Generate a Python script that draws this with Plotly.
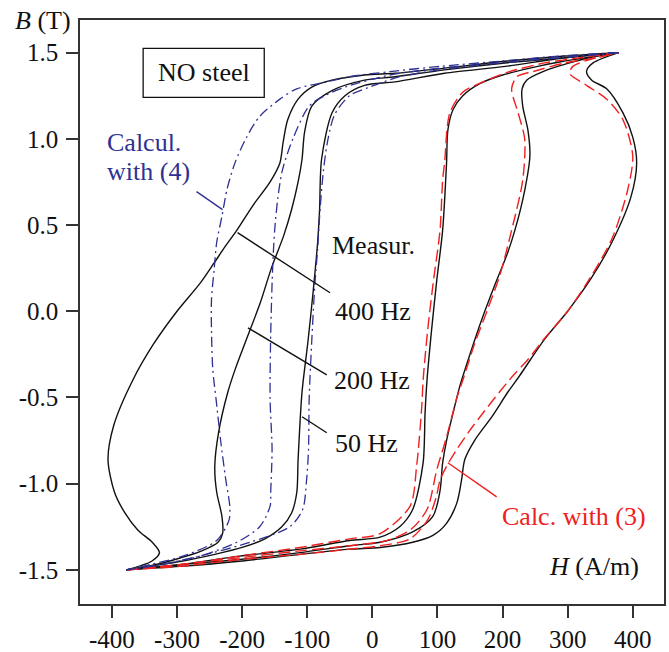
import plotly.graph_objects as go

# ---------------- data (H in A/m, B in T) ----------------
# Measured loops, ascending branches
m400_up_H = [-378,-296,-204,-111,-35,12,62,93,114,130,137,142,157,184,208,227,243,265,300,336,368,397,406,400,385,360,337,329,339,378]
m400_up_B = [-1.50,-1.48,-1.45,-1.41,-1.38,-1.37,-1.34,-1.30,-1.23,-1.11,-0.98,-0.86,-0.75,-0.61,-0.47,-0.37,-0.28,-0.16,0.00,0.19,0.40,0.66,0.86,1.01,1.15,1.29,1.34,1.39,1.44,1.50]
m200_up_H = [-378,-296,-204,-111,-35,12,62,93,104,108,114,124,134,150,168,188,207,219,234,242,239,231,230,237,262,303,345,378]
m200_up_B = [-1.50,-1.47,-1.44,-1.40,-1.36,-1.34,-1.28,-1.19,-1.04,-0.88,-0.75,-0.59,-0.44,-0.25,-0.05,0.15,0.33,0.47,0.70,0.90,1.05,1.19,1.29,1.34,1.39,1.44,1.48,1.50]
m50_up_H = [-378,-296,-204,-111,-35,12,42,62,78,81,84,91,99,108,114,116,124,139,165,200,242,293,345,378]
m50_up_B = [-1.50,-1.47,-1.42,-1.38,-1.33,-1.31,-1.25,-1.15,-0.88,-0.59,-0.40,-0.11,0.18,0.47,0.86,1.05,1.17,1.25,1.32,1.37,1.41,1.45,1.48,1.50]

# Measured loops, descending branches
m400_dn_H = [378,296,204,111,35,-12,-62,-93,-114,-130,-137,-142,-157,-184,-208,-227,-243,-265,-300,-336,-368,-397,-406,-396,-380,-360,-338,-327,-339,-378]
m400_dn_B = [1.50,1.48,1.45,1.41,1.38,1.37,1.34,1.30,1.23,1.11,0.98,0.86,0.75,0.61,0.47,0.37,0.28,0.16,0.00,-0.19,-0.40,-0.66,-0.86,-1.05,-1.17,-1.27,-1.34,-1.40,-1.45,-1.50]
m200_dn_H = [378,296,204,111,35,-12,-62,-93,-104,-108,-114,-124,-136,-155,-172,-192,-210,-222,-236,-242,-239,-231,-230,-237,-262,-303,-345,-378]
m200_dn_B = [1.50,1.47,1.44,1.40,1.36,1.34,1.28,1.19,1.04,0.88,0.75,0.59,0.44,0.25,0.05,-0.15,-0.33,-0.47,-0.70,-0.90,-1.05,-1.19,-1.29,-1.34,-1.39,-1.44,-1.48,-1.50]
m50_dn_H = [378,296,204,111,35,-12,-42,-62,-78,-81,-84,-91,-99,-108,-114,-116,-124,-139,-165,-200,-242,-293,-345,-378]
m50_dn_B = [1.50,1.47,1.42,1.38,1.33,1.31,1.25,1.15,0.88,0.59,0.40,0.11,-0.18,-0.47,-0.86,-1.05,-1.17,-1.25,-1.32,-1.37,-1.41,-1.45,-1.48,-1.50]

# Calculated with (3): ascending branches
c3_50_H = [-378,-296,-204,-111,-35,12,58,68,76,78,85,94,104,108,111,119,139,170,211,265,319,378]
c3_50_B = [-1.50,-1.47,-1.42,-1.37,-1.32,-1.29,-1.13,-0.90,-0.55,-0.40,-0.11,0.18,0.47,0.76,0.86,1.15,1.27,1.33,1.39,1.44,1.47,1.50]
c3_200_H = [-378,-296,-204,-111,-35,22,58,84,99,114,130,139,157,177,196,214,231,234,224,214,222,247,296,345,378]
c3_200_B = [-1.50,-1.47,-1.43,-1.39,-1.36,-1.33,-1.27,-1.15,-0.92,-0.73,-0.50,-0.40,-0.19,0.01,0.21,0.47,0.76,1.00,1.15,1.29,1.36,1.39,1.44,1.47,1.50]
c3_400_H = [-378,-296,-204,-111,-35,12,58,85,98,104,114,130,150,170,195,217,239,264,300,334,368,392,400,385,360,329,303,308,334,378]
c3_400_B = [-1.50,-1.48,-1.44,-1.41,-1.38,-1.36,-1.32,-1.21,-1.08,-0.98,-0.90,-0.80,-0.69,-0.59,-0.47,-0.37,-0.28,-0.16,0.00,0.19,0.42,0.70,0.90,1.11,1.23,1.31,1.38,1.42,1.46,1.50]

# Calculated with (4): descending branches
c4_400_H = [378,288,196,104,27,-35,-70,-116,-142,-173,-193,-211,-223,-231,-239,-243,-247,-247,-245,-240,-233,-225,-219,-220,-239,-291,-342,-378]
c4_400_B = [1.50,1.48,1.45,1.42,1.39,1.36,1.33,1.29,1.23,1.13,1.01,0.86,0.71,0.55,0.40,0.24,0.07,-0.12,-0.34,-0.51,-0.75,-0.98,-1.13,-1.21,-1.33,-1.42,-1.47,-1.50]
c4_200_H = [378,288,196,104,27,-42,-73,-97,-122,-138,-145,-150,-153,-156,-157,-154,-156,-157,-173,-208,-265,-326,-378]
c4_200_B = [1.50,1.47,1.44,1.41,1.37,1.30,1.25,1.19,1.00,0.82,0.66,0.47,0.26,-0.12,-0.51,-0.80,-1.04,-1.13,-1.25,-1.34,-1.42,-1.47,-1.50]
c4_50_H = [378,288,196,104,42,-4,-35,-58,-68,-75,-81,-84,-88,-93,-97,-98,-101,-107,-127,-188,-265,-326,-378]
c4_50_B = [1.50,1.47,1.44,1.40,1.36,1.30,1.25,1.14,1.00,0.82,0.55,0.36,0.17,-0.17,-0.51,-0.80,-0.98,-1.15,-1.25,-1.34,-1.42,-1.47,-1.50]

x_ticks = [-400, -300, -200, -100, 0, 100, 200, 300, 400]
x_tick_text = ["-400", "-300", "-200", "-100", "0", "100", "200", "300", "400"]
y_ticks = [-1.5, -1.0, -0.5, 0.0, 0.5, 1.0, 1.5]
y_tick_text = ["-1.5", "-1.0", "-0.5", "0.0", "0.5", "1.0", "1.5"]

BLACK = "#111111"
RED = "#f02020"
BLUE = "#2e3192"
FONT = "Liberation Serif"

fig = go.Figure()

def add(h, b, color, dash, width):
    fig.add_trace(go.Scatter(x=h, y=b, mode="lines",
                             line=dict(color=color, width=width, dash=dash,
                                       shape="spline", smoothing=0.8),
                             hoverinfo="skip", showlegend=False))

for h, b in [(m400_up_H, m400_up_B), (m200_up_H, m200_up_B), (m50_up_H, m50_up_B),
             (m400_dn_H, m400_dn_B), (m200_dn_H, m200_dn_B), (m50_dn_H, m50_dn_B)]:
    add(h, b, BLACK, "solid", 1.4)
for h, b in [(c3_50_H, c3_50_B), (c3_200_H, c3_200_B), (c3_400_H, c3_400_B)]:
    add(h, b, RED, "12px,5px", 1.4)
for h, b in [(c4_50_H, c4_50_B), (c4_200_H, c4_200_B), (c4_400_H, c4_400_B)]:
    add(h, b, BLUE, "10px,4px,2px,4px", 1.3)

# pointer lines
pointers = [
    ((-207, 0.456), (-65, 0.107), BLACK),
    ((-191, -0.096), (-70, -0.369), BLACK),
    ((-108, -0.612), (-70, -0.705), BLACK),
    ((-270, 0.694), (-230, 0.589), BLUE),
    ((116, -0.879), (191, -1.077), RED),
]
shapes = []
for (x0, y0), (x1, y1), c in pointers:
    shapes.append(dict(type="line", xref="x", yref="y", x0=x0, y0=y0, x1=x1, y1=y1,
                       line=dict(color=c, width=1.4)))
shapes.append(dict(type="rect", xref="x", yref="y", x0=-352, x1=-166, y0=1.24, y1=1.525,
                   line=dict(color=BLACK, width=1.3), fillcolor="white", layer="above"))

annotations = []
def txt(x, y, s, color=BLACK, size=26, xanchor="left", xref="x", yref="y"):
    annotations.append(dict(x=x, y=y, xref=xref, yref=yref, text=s, showarrow=False,
                            xanchor=xanchor, yanchor="middle",
                            font=dict(family=FONT, size=size, color=color)))

txt(-259, 1.384, "NO steel", xanchor="center")
txt(-65, 0.38, "Measur.")
txt(-61, 0.0, "400 Hz")
txt(-62, -0.40, "200 Hz")
txt(-61, -0.77, "50 Hz")
txt(-411, 0.98, "Calcul.", color=BLUE)
txt(-411, 0.81, "with (4)", color=BLUE)
txt(196, -1.19, "Calc. with (3)", color=RED)
txt(268, -1.48, "<i>H</i> (A/m)")
txt(-0.115, 1.0, "<i>B</i> (T)", xref="paper", yref="paper")

fig.update_layout(
    width=669, height=652,
    margin=dict(l=80, r=5, t=20, b=48, autoexpand=False),
    paper_bgcolor="white", plot_bgcolor="white",
    font=dict(family=FONT, size=25, color=BLACK),
    shapes=shapes, annotations=annotations,
    xaxis=dict(range=[-449, 448], tickvals=x_ticks, ticktext=x_tick_text,
               showgrid=False, zeroline=False, showline=True, mirror=True,
               linecolor="#333333", linewidth=1.5, ticks="outside", ticklen=12,
               tickwidth=1.5, tickcolor="#333333", automargin=False,
               tickfont=dict(family=FONT, size=25, color=BLACK)),
    yaxis=dict(range=[-1.698, 1.689], tickvals=y_ticks, ticktext=y_tick_text,
               showgrid=False, zeroline=False, showline=True, mirror=True,
               linecolor="#333333", linewidth=1.5, ticks="outside", ticklen=12,
               tickwidth=1.5, tickcolor="#333333", automargin=False,
               ticklabelstandoff=3,
               tickfont=dict(family=FONT, size=25, color=BLACK)),
)

fig.write_html("out.html", config={"displayModeBar": False},
               post_script="document.body.style.margin='0';document.body.style.padding='0';")
